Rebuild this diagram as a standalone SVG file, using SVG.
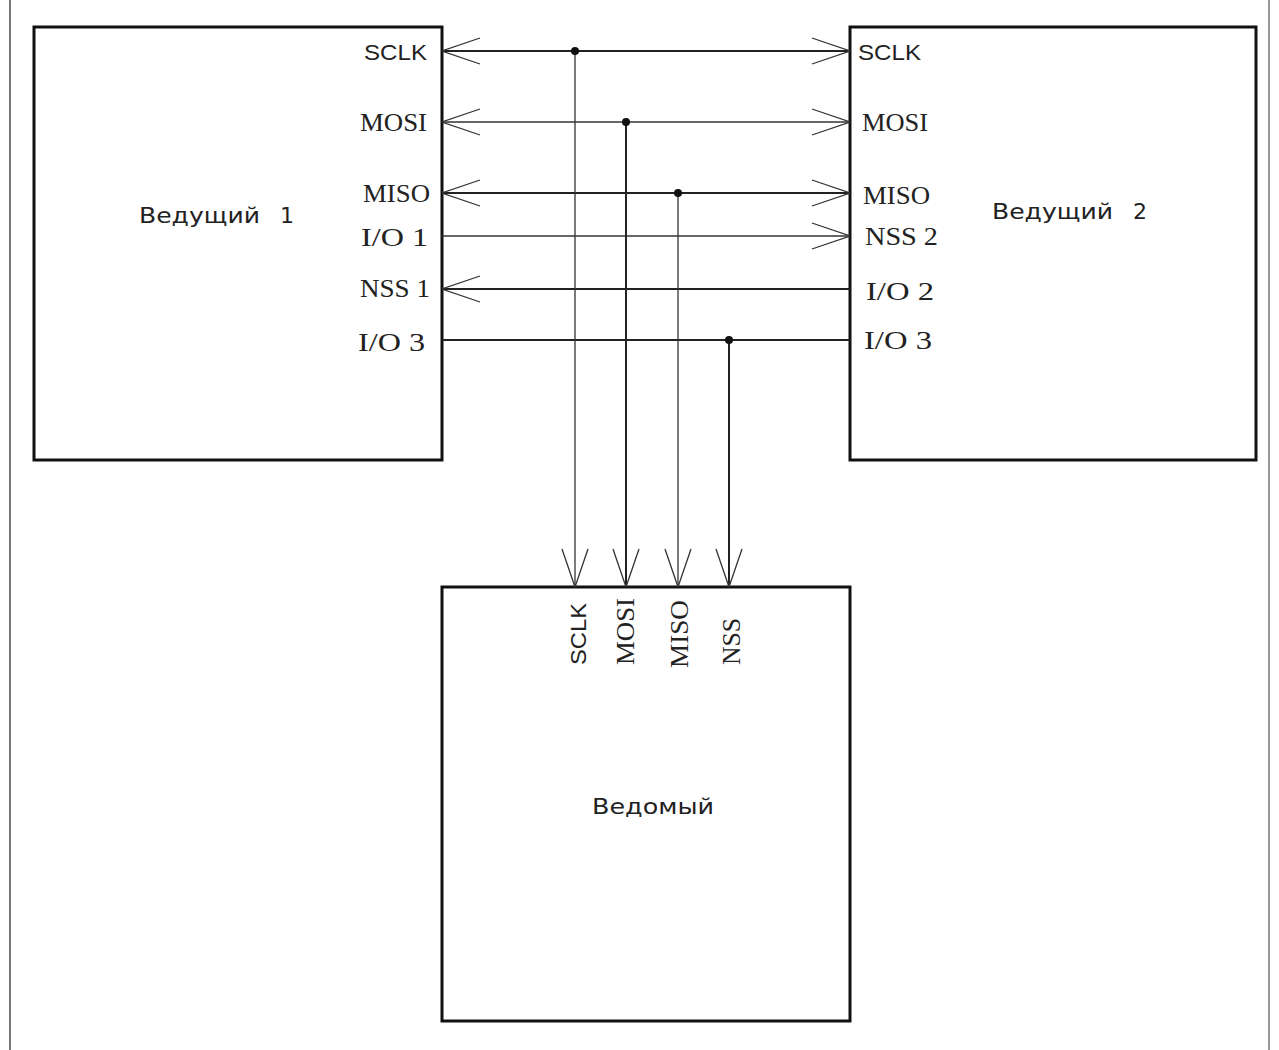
<svg xmlns="http://www.w3.org/2000/svg" width="1279" height="1050" viewBox="0 0 1279 1050">
<defs>
<style>
.box{fill:#fff;stroke:#111;stroke-width:3}
.ln{stroke:#222;stroke-width:2;fill:none}
.thin{stroke:#333;stroke-width:1.3;fill:none}
.lbl{font-family:"Liberation Serif",serif;font-size:25px;fill:#222}
.sc{font-family:"Liberation Sans",sans-serif;font-size:22px}
.sans{font-family:"DejaVu Sans",sans-serif;font-size:22px;fill:#222}
.dot{fill:#111}
</style>
<marker id="arr" viewBox="0 0 40 30" refX="40" refY="15" markerWidth="40" markerHeight="30" markerUnits="userSpaceOnUse" orient="auto-start-reverse">
<path d="M2,2 L40,15 L2,28" fill="none" stroke="#333" stroke-width="1.3"/>
</marker>
</defs>
<rect width="1279" height="1050" fill="#fff"/>
<line x1="10" y1="0" x2="10" y2="1050" stroke="#777" stroke-width="2"/>
<line x1="1269" y1="0" x2="1269" y2="1050" stroke="#999" stroke-width="2"/>
<g id="master1">
<rect class="box" x="34" y="27" width="408" height="433"/>
<text class="sans" x="139" y="223" textLength="121" lengthAdjust="spacingAndGlyphs">Ведущий</text>
<text class="sans" x="280" y="223">1</text>
<g class="lbl">
<text class="sc" x="364" y="60" textLength="63" lengthAdjust="spacingAndGlyphs">SCLK</text>
<text x="360" y="131" textLength="67" lengthAdjust="spacingAndGlyphs">MOSI</text>
<text x="363" y="202" textLength="67" lengthAdjust="spacingAndGlyphs">MISO</text>
<text x="361" y="246" textLength="67" lengthAdjust="spacingAndGlyphs">I/O 1</text>
<text x="360" y="297" textLength="70" lengthAdjust="spacingAndGlyphs">NSS 1</text>
<text x="358" y="351" textLength="67" lengthAdjust="spacingAndGlyphs">I/O 3</text>
</g>
</g>
<g id="master2">
<rect class="box" x="850" y="27" width="406" height="433"/>
<text class="sans" x="992" y="219" textLength="121" lengthAdjust="spacingAndGlyphs">Ведущий</text>
<text class="sans" x="1133" y="219">2</text>
<g class="lbl">
<text class="sc" x="858" y="60" textLength="63" lengthAdjust="spacingAndGlyphs">SCLK</text>
<text x="862" y="131" textLength="66" lengthAdjust="spacingAndGlyphs">MOSI</text>
<text x="863" y="204" textLength="67" lengthAdjust="spacingAndGlyphs">MISO</text>
<text x="865" y="245" textLength="73" lengthAdjust="spacingAndGlyphs">NSS 2</text>
<text x="866" y="300" textLength="68" lengthAdjust="spacingAndGlyphs">I/O 2</text>
<text x="864" y="349" textLength="68" lengthAdjust="spacingAndGlyphs">I/O 3</text>
</g>
</g>
<g id="slave">
<rect class="box" x="442" y="587" width="408" height="434"/>
<text class="sans" x="592" y="814" textLength="122" lengthAdjust="spacingAndGlyphs">Ведомый</text>
<g class="lbl">
<text class="sc" transform="translate(586,665) rotate(-90)" textLength="62" lengthAdjust="spacingAndGlyphs">SCLK</text>
<text transform="translate(634,665) rotate(-90)" textLength="67" lengthAdjust="spacingAndGlyphs">MOSI</text>
<text transform="translate(688,668) rotate(-90)" textLength="68" lengthAdjust="spacingAndGlyphs">MISO</text>
<text transform="translate(740,665) rotate(-90)" textLength="47" lengthAdjust="spacingAndGlyphs">NSS</text>
</g>
</g>
<g id="connectors">
<line class="ln" x1="442" y1="51" x2="850" y2="51" marker-start="url(#arr)" marker-end="url(#arr)"/>
<line class="thin" x1="442" y1="122" x2="850" y2="122" marker-start="url(#arr)" marker-end="url(#arr)"/>
<line class="ln" x1="442" y1="193" x2="850" y2="193" marker-start="url(#arr)" marker-end="url(#arr)"/>
<line class="thin" x1="442" y1="236" x2="850" y2="236" marker-end="url(#arr)"/>
<line class="ln" x1="442" y1="289" x2="850" y2="289" marker-start="url(#arr)"/>
<line class="ln" x1="442" y1="340" x2="850" y2="340"/>
<line class="thin" x1="575" y1="51" x2="575" y2="587" marker-end="url(#arr)"/>
<line class="ln" x1="626" y1="122" x2="626" y2="587" marker-end="url(#arr)"/>
<line class="thin" x1="678" y1="193" x2="678" y2="587" marker-end="url(#arr)"/>
<line class="ln" x1="729" y1="340" x2="729" y2="587" marker-end="url(#arr)"/>
<circle class="dot" cx="575" cy="51" r="4"/>
<circle class="dot" cx="626" cy="122" r="4"/>
<circle class="dot" cx="678" cy="193" r="4"/>
<circle class="dot" cx="729" cy="340" r="4"/>
</g>
</svg>
